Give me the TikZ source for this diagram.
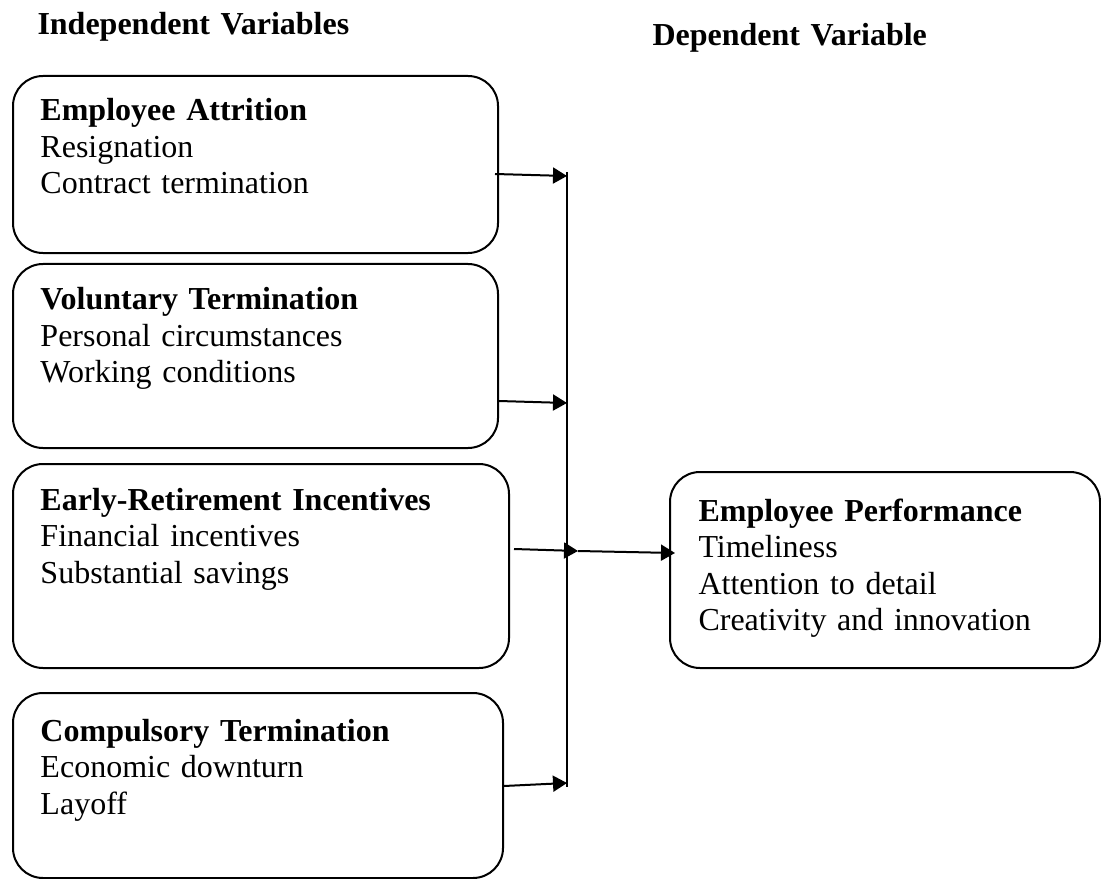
\documentclass[tikz,border=0pt]{standalone}
\usepackage{fontspec}
\setmainfont{Liberation Serif}
\usetikzlibrary{positioning,calc,arrows.meta}

\tikzset{
  varbox/.style={draw,line width=0.8pt,rounded corners=12pt,anchor=north west,inner sep=0pt},
  vartext/.style={anchor=base west,align=left,inner sep=0pt,text width=200pt,
    font=\fontsize{12.8}{14.6}\selectfont},
  flow/.style={line width=0.8pt,-{Triangle[length=5.6pt,width=6.4pt]}}
}

\begin{document}
\begin{tikzpicture}[x=0.4pt,y=-0.4pt]

\useasboundingbox (0,0) rectangle (1101,879);

\node[vartext] (indep) at (37,35) {\textbf{Independent Variables}};
\node[vartext] (dep) at (652,46) {\textbf{Dependent Variable}};

\node[varbox,minimum width=194pt,minimum height=70.8pt] (attr) at (12,75) {};
\node[varbox,minimum width=194pt,minimum height=73.6pt] (vol) at (12,263) {};
\node[varbox,minimum width=198.4pt,minimum height=81.6pt] (early) at (12,463) {};
\node[varbox,minimum width=196pt,minimum height=74pt] (comp) at (12,692) {};
\node[varbox,minimum width=172pt,minimum height=78.4pt] (perf) at (669,471) {};

\node[vartext] (attrtxt) at (40,121) {\textbf{Employee Attrition}\\Resignation\\Contract termination};
\node[vartext] (voltxt) at (40,310) {\textbf{Voluntary Termination}\\Personal circumstances\\Working conditions};
\node[vartext] (earlytxt) at (40,510) {\textbf{Early-Retirement Incentives}\\Financial incentives\\Substantial savings};
\node[vartext] (comptxt) at (40,741) {\textbf{Compulsory Termination}\\Economic downturn\\Layoff};
\node[vartext] (perftxt) at (698,521) {\textbf{Employee Performance}\\Timeliness\\Attention to detail\\Creativity and innovation};

% bus line
\coordinate (bt) at (567,172);
\coordinate (bb) at (567,787);
\coordinate (b1) at (567,176);
\coordinate (b2) at (567,403);
\coordinate (b3) at (578,551);
\coordinate (b4) at (567,783);

\draw[line width=0.5pt] (bt) -- (bb);

\draw[flow] ([xshift=-1.6pt]attr.east |- 0,174) -- (b1);
\draw[flow] (vol.east |- 0,401) -- (b2);
\draw[flow] ([xshift=1.6pt]early.east |- 0,549) -- (b3);
\draw[flow] (comp.east |- 0,786) -- (b4);
\draw[flow] (b3) -- ([xshift=2.4pt]perf.west |- 0,553);

\end{tikzpicture}
\end{document}
